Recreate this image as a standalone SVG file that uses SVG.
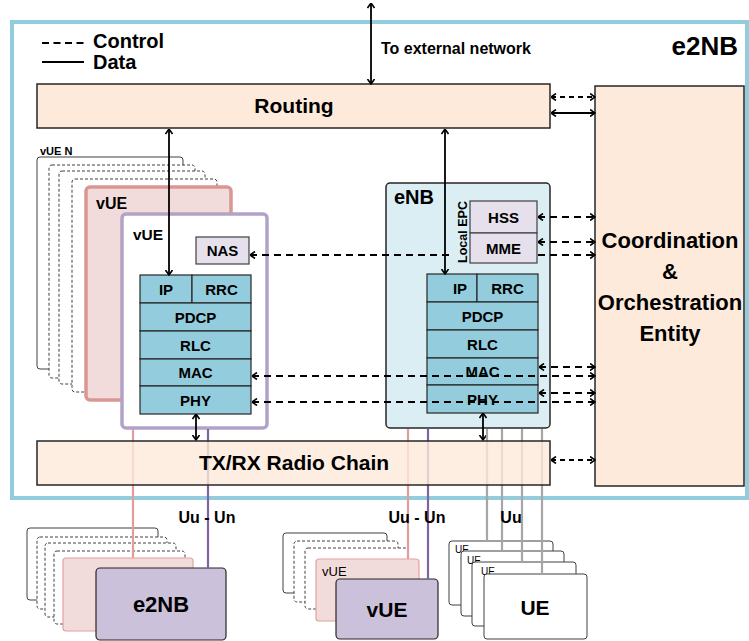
<svg xmlns="http://www.w3.org/2000/svg" width="749" height="641" viewBox="0 0 749 641">
<style>
text{font-family:"Liberation Sans",Arial,sans-serif;font-weight:bold;fill:#000}
.box{fill:#FDEADA;stroke:#262626;stroke-width:1.5}
.stk{fill:#93CDDD;stroke:#262626;stroke-width:1.2}
.lav{fill:#E6E0EC;stroke:#404040;stroke-width:1.2}
.sol{stroke:#000;stroke-width:1.8;fill:none}
.dsh{stroke:#000;stroke-width:2.2;fill:none;stroke-dasharray:7 5}
.dshs{stroke:#000;stroke-width:2;fill:none;stroke-dasharray:5 4}
.ghost{fill:#fff;stroke:#404040;stroke-width:1}
.gd{stroke-dasharray:3 2}
.pk{fill:#F2DCDB;stroke:#E6A0A0;stroke-width:1.2}
.pu{fill:#CCC1DA;stroke:#262626;stroke-width:1.2}
.ln{stroke-width:2.2;fill:none}
.c{text-anchor:middle}
.nw{font-weight:normal}
</style>
<defs>
<marker id="ah" viewBox="0 0 6 8" refX="5.5" refY="4" markerWidth="6" markerHeight="8" markerUnits="userSpaceOnUse" orient="auto-start-reverse">
<path d="M0.5,0.5 L5.5,4 L0.5,7.5" fill="none" stroke="#000" stroke-width="1.6"/>
</marker>
<linearGradient id="gh" gradientUnits="userSpaceOnUse" x1="0" y1="0" x2="749" y2="0">
<stop offset="0" stop-color="#000"/><stop offset="0.5154" stop-color="#000"/>
<stop offset="0.5154" stop-color="#4A5A60" stop-opacity="0.55"/><stop offset="0.7343" stop-color="#4A5A60" stop-opacity="0.55"/>
<stop offset="0.7343" stop-color="#000"/><stop offset="1" stop-color="#000"/>
</linearGradient>
</defs>

<g id="frame">
<rect x="12" y="22" width="735" height="476" fill="none" stroke="#93CDDD" stroke-width="4"/>
<text x="738" y="55" font-size="26" text-anchor="end">e2NB</text>
</g>

<g id="legend">
<line x1="42" y1="43" x2="84" y2="43" stroke="#000" stroke-width="2" stroke-dasharray="7 4.5"/>
<line x1="42" y1="62" x2="84" y2="62" stroke="#000" stroke-width="2"/>
<text x="93" y="48" font-size="20">Control</text>
<text x="93" y="69" font-size="20">Data</text>
</g>

<g id="routing">
<rect class="box" x="37" y="84" width="513" height="44"/>
<text class="c" x="294" y="113" font-size="21">Routing</text>
</g>

<g id="coordination">
<rect class="box" x="595" y="86" width="149" height="400"/>
<text class="c" x="670" y="248" font-size="22">Coordination</text>
<text class="c" x="670" y="279" font-size="22">&amp;</text>
<text class="c" x="670" y="310" font-size="22">Orchestration</text>
<text class="c" x="670" y="341" font-size="22">Entity</text>
</g>

<g id="vue-stack">
<rect class="ghost" x="37" y="157" width="146" height="212" rx="3"/>
<rect class="ghost gd" x="49" y="165" width="146" height="213" rx="3"/>
<rect class="ghost gd" x="59" y="171" width="146" height="213" rx="3"/>
<rect class="ghost gd" x="72" y="179" width="145" height="213" rx="3"/>
<text x="40" y="155" font-size="11">vUE N</text>
</g>

<g id="vue-pink">
<rect x="86" y="187" width="145" height="213" rx="4" fill="#F2DCDB" stroke="#D99694" stroke-width="3.5"/>
<text x="96" y="209" font-size="16">vUE</text>
</g>

<g id="vue">
<rect x="122" y="214" width="145" height="214" rx="4" fill="#fff" stroke="#B3A2C7" stroke-width="3.5"/>
<text x="133" y="240" font-size="15.5">vUE</text>
<rect class="lav" x="196" y="237" width="53" height="27"/>
<text class="c" x="222.5" y="256" font-size="15">NAS</text>
<rect class="stk" x="140" y="275" width="52" height="28"/>
<rect class="stk" x="192" y="275" width="59" height="28"/>
<rect class="stk" x="140" y="303" width="111" height="28"/>
<rect class="stk" x="140" y="331" width="111" height="28"/>
<rect class="stk" x="140" y="359" width="111" height="27"/>
<rect class="stk" x="140" y="386" width="111" height="28"/>
<text class="c" x="166" y="294.5" font-size="15">IP</text>
<text class="c" x="221.5" y="294.5" font-size="15">RRC</text>
<text class="c" x="195.5" y="322.5" font-size="15">PDCP</text>
<text class="c" x="195.5" y="350.5" font-size="15">RLC</text>
<text class="c" x="195.5" y="378" font-size="15">MAC</text>
<text class="c" x="195.5" y="405.5" font-size="15">PHY</text>
</g>

<g id="enb">
<rect x="386" y="183" width="164" height="245" rx="4" fill="#DAEEF3" stroke="#262626" stroke-width="1.5"/>
<text x="394" y="204" font-size="20">eNB</text>
<text transform="translate(467,232) rotate(-90)" class="c" font-size="12.5">Local EPC</text>
<rect class="lav" x="470" y="201" width="67" height="32"/>
<rect class="lav" x="470" y="233" width="67" height="30"/>
<text class="c" x="503.5" y="222.5" font-size="15">HSS</text>
<text class="c" x="503.5" y="253.5" font-size="15">MME</text>
<rect class="stk" x="427" y="274" width="50" height="28"/>
<rect class="stk" x="477" y="274" width="61" height="28"/>
<rect class="stk" x="427" y="302" width="111" height="28"/>
<rect class="stk" x="427" y="330" width="111" height="28"/>
<rect class="stk" x="427" y="358" width="111" height="27"/>
<rect class="stk" x="427" y="385" width="111" height="28"/>
<text class="c" x="460" y="293.5" font-size="15">IP</text>
<text class="c" x="507.5" y="293.5" font-size="15">RRC</text>
<text class="c" x="482.5" y="321.5" font-size="15">PDCP</text>
<text class="c" x="482.5" y="349.5" font-size="15">RLC</text>
<text class="c" x="482.5" y="377" font-size="15">MAC</text>
<text class="c" x="482.5" y="404.5" font-size="15">PHY</text>
</g>

<g id="e2nb-stack">
<rect class="ghost" x="27" y="528" width="131" height="72" rx="3"/>
<rect class="ghost gd" x="37" y="537" width="130" height="72" rx="3"/>
<rect class="ghost gd" x="45" y="543" width="131" height="74" rx="3"/>
<rect class="ghost gd" x="54" y="551" width="131" height="73" rx="3"/>
<rect class="pk" x="63" y="558" width="130" height="73" rx="3"/>
<rect class="pu" x="96" y="568" width="130" height="72" rx="4"/>
<text class="c" x="161" y="612" font-size="22">e2NB</text>
</g>

<g id="vue-bottom-stack">
<rect class="ghost" x="283" y="533" width="104" height="60" rx="3"/>
<rect class="ghost gd" x="294" y="541" width="104" height="61" rx="3"/>
<rect class="ghost gd" x="305" y="548" width="103" height="61" rx="3"/>
<rect class="pk" x="316" y="559" width="103" height="62" rx="3"/>
<text class="nw" x="322" y="576" font-size="13">vUE</text>
<rect class="pu" x="336" y="579" width="102" height="60" rx="4"/>
<text class="c" x="387" y="617" font-size="21">vUE</text>
</g>

<g id="ue-stack">
<rect class="ghost" x="449" y="541" width="104" height="64" rx="3"/>
<text class="nw" x="455" y="553" font-size="10">UE</text>
<rect class="ghost" x="461" y="551" width="103" height="65" rx="3"/>
<text class="nw" x="467" y="564" font-size="10">UE</text>
<rect class="ghost" x="472" y="562" width="104" height="64" rx="3"/>
<text class="nw" x="481" y="575" font-size="10">UE</text>
<rect class="ghost" x="484" y="574" width="103" height="65" rx="3"/>
<text class="c" x="535" y="615" font-size="21">UE</text>
</g>

<g id="connectors">
<line class="sol" x1="371" y1="3" x2="371" y2="84" marker-start="url(#ah)" marker-end="url(#ah)"/>
<line class="sol" x1="169" y1="129" x2="169" y2="275" marker-start="url(#ah)" marker-end="url(#ah)"/>
<line class="sol" x1="445" y1="129" x2="445" y2="274" marker-start="url(#ah)" marker-end="url(#ah)"/>
<line class="sol" x1="196" y1="414" x2="196" y2="440" marker-start="url(#ah)" marker-end="url(#ah)"/>
<line class="sol" x1="483" y1="413" x2="483" y2="440" marker-start="url(#ah)" marker-end="url(#ah)"/>
<line class="dshs" x1="551" y1="97" x2="595" y2="97" marker-start="url(#ah)" marker-end="url(#ah)"/>
<line class="sol" x1="551" y1="113" x2="595" y2="113" marker-start="url(#ah)" marker-end="url(#ah)"/>
<line class="dsh" x1="538" y1="217" x2="595" y2="217" marker-start="url(#ah)" marker-end="url(#ah)"/>
<line class="dsh" x1="538" y1="242" x2="595" y2="242" marker-start="url(#ah)" marker-end="url(#ah)"/>
<line class="dsh" x1="250" y1="255" x2="453" y2="255" stroke="url(#gh)" marker-start="url(#ah)"/>
<line class="dsh" x1="538" y1="255" x2="595" y2="255" stroke="url(#gh)" marker-end="url(#ah)"/>
<line class="dsh" x1="539" y1="367" x2="595" y2="367" marker-start="url(#ah)" marker-end="url(#ah)"/>
<line class="dsh" x1="252" y1="376" x2="595" y2="376" stroke="url(#gh)" marker-start="url(#ah)" marker-end="url(#ah)"/>
<line class="dsh" x1="539" y1="393" x2="595" y2="393" marker-start="url(#ah)" marker-end="url(#ah)"/>
<line class="dsh" x1="252" y1="402" x2="595" y2="402" stroke="url(#gh)" marker-start="url(#ah)" marker-end="url(#ah)"/>
<line class="dshs" x1="551" y1="460" x2="595" y2="460" marker-start="url(#ah)" marker-end="url(#ah)"/>
<line class="ln" x1="133" y1="429" x2="133" y2="558" stroke="#E29C9A"/>
<line class="ln" x1="208" y1="429" x2="208" y2="568" stroke="#8064A2"/>
<line class="ln" x1="408" y1="429" x2="408" y2="559" stroke="#E29C9A"/>
<line class="ln" x1="428" y1="429" x2="428" y2="579" stroke="#8064A2"/>
<line class="ln" x1="487" y1="429" x2="487" y2="541" stroke="#A6A6A6"/>
<line class="ln" x1="502" y1="429" x2="502" y2="551" stroke="#A6A6A6"/>
<line class="ln" x1="522" y1="429" x2="522" y2="562" stroke="#A6A6A6"/>
<line class="ln" x1="542" y1="429" x2="542" y2="574" stroke="#A6A6A6"/>
<text x="381" y="54" font-size="16">To external network</text>
<text class="c" x="207" y="523" font-size="16">Uu - Un</text>
<text class="c" x="417" y="523" font-size="16">Uu - Un</text>
<text class="c" x="511" y="523" font-size="16">Uu</text>
</g>

<g id="txrx">
<rect x="37" y="441" width="513" height="44" fill="#FDEADA" fill-opacity="0.8" stroke="#262626" stroke-width="1.5"/>
<text class="c" x="294" y="470" font-size="21">TX/RX Radio Chain</text>
</g>
</svg>
